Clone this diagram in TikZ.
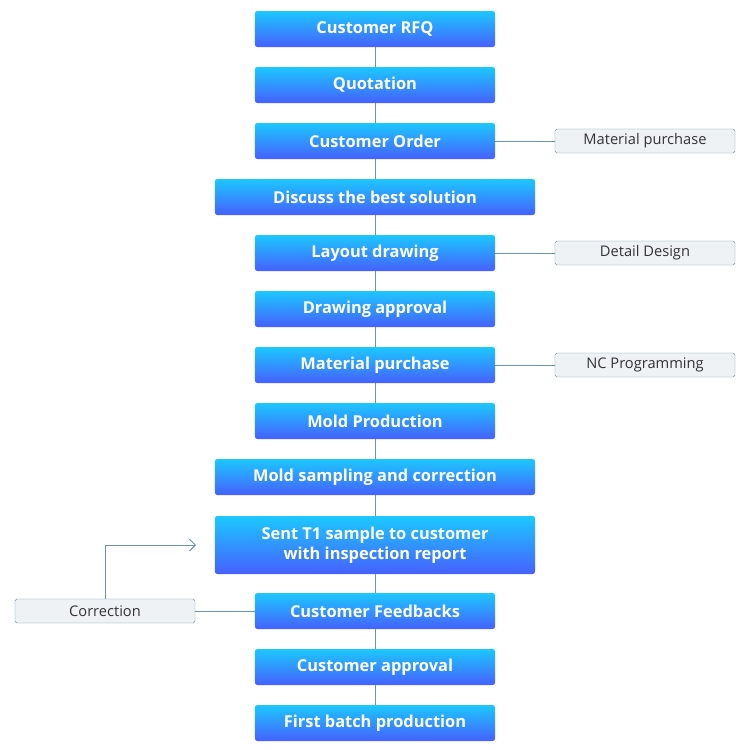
\documentclass[tikz,border=0pt]{standalone}
\usepackage{fontspec}
\setmainfont{Open Sans}
\usetikzlibrary{arrows.meta}
\definecolor{stepTop}{HTML}{1CC8FF}
\definecolor{stepBot}{HTML}{4660FF}
\definecolor{sideFill}{HTML}{EEF2F5}
\definecolor{sideLine}{HTML}{6E93A8}
\tikzset{
	stepbox/.style={rounded corners=2pt, top color=stepTop, bottom color=stepBot, draw=none,
		text=white, font=\fontsize{14}{17}\selectfont\bfseries, align=center,
		minimum width=7.2cm, minimum height=1.08cm, inner sep=0pt},
	widebox/.style={stepbox, minimum width=9.6cm},
	sidebox/.style={rounded corners=1.5pt, fill=sideFill, draw=sideLine, text=black!80,
		font=\fontsize{12.5}{15}\selectfont, minimum width=5.4cm, minimum height=0.72cm, inner sep=0pt},
	link/.style={sideLine, line width=0.8pt}
}
\begin{document}
\begin{tikzpicture}[x=0.03cm,y=-0.03cm]
		\useasboundingbox (0,0) rectangle (750,750);
		% main steps
		\node (rfq)      at (375,29)  [stepbox] {Customer RFQ};
		\node (quote)    at (375,85)  [stepbox] {Quotation};
		\node (order)    at (375,141) [stepbox] {Customer Order};
		\node (discuss)  at (375,197) [widebox] {Discuss the best solution};
		\node (layout)   at (375,253) [stepbox] {Layout drawing};
		\node (approval) at (375,309) [stepbox] {Drawing approval};
		\node (material) at (375,365) [stepbox] {Material purchase};
		\node (mold)     at (375,421) [stepbox] {Mold Production};
		\node (sampling) at (375,477) [widebox] {Mold sampling and correction};
		\node (sent)     at (375,545) [widebox, minimum height=1.74cm] {Sent T1 sample to customer\\with inspection report};
		\node (feedback) at (375,611) [stepbox] {Customer Feedbacks};
		\node (capprove) at (375,667) [stepbox] {Customer approval};
		\node (batch)    at (375,723) [stepbox] {First batch production};
		%
		% side notes
		\node (matnote)  at (645,141) [sidebox] {Material purchase};
		\node (detail)   at (645,253) [sidebox] {Detail Design};
		\node (nc)       at (645,365) [sidebox] {NC Programming};
		\node (correct)  at (105,611) [sidebox] {Correction};
		\coordinate (back) at (196,545);
		%
		\draw[link] (rfq) -- (quote);
		\draw[link] (quote) -- (order);
		\draw[link] (order) -- (discuss);
		\draw[link] (discuss) -- (layout);
		\draw[link] (layout) -- (approval);
		\draw[link] (approval) -- (material);
		\draw[link] (material) -- (mold);
		\draw[link] (mold) -- (sampling);
		\draw[link] (sampling) -- (sent);
		\draw[link] (sent) -- (feedback);
		\draw[link] (feedback) -- (capprove);
		\draw[link] (capprove) -- (batch);
		%
		\draw[link] (order) -- (matnote);
		\draw[link] (layout) -- (detail);
		\draw[link] (material) -- (nc);
		\draw[link] (feedback) -- (correct);
		\draw[link, -{Straight Barb[length=5pt,width=10pt]}] (correct) |- (back);
	\end{tikzpicture}
\end{document}
